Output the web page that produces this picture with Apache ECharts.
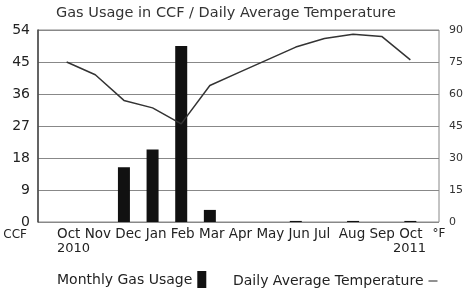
<!DOCTYPE html>
<html>
<head>
<meta charset="utf-8">
<script src="https://cdn.jsdelivr.net/npm/echarts@6/dist/echarts.min.js"></script>
<style>
  html, body { margin: 0; padding: 0; background: #fff; }
  #chart { width: 466px; height: 288px; }
</style>
</head>
<body>
<div id="chart"></div>
<script>
// months Oct 2010 .. Oct 2011
var months = ["Oct", "Nov", "Dec", "Jan", "Feb", "Mar", "Apr", "May", "Jun", "Jul", "Aug", "Sep", "Oct"];
var gasUsage = [0, 0, 15.4, 20.4, 49.5, 3.4, 0, 0, 0.3, 0, 0.3, 0, 0.3];
var avgTemp = [75, 69, 57, 53.5, 46, 64, 70, 76, 82, 86, 88, 87, 76];
var ccfTicks = [0, 9, 18, 27, 36, 45, 54];
var tempTicks = [0, 15, 30, 45, 60, 75, 90];

var font = "DejaVu Sans";
var chart = echarts.init(document.getElementById("chart"));

var legendBase = {
  padding: 0,
  align: "right",
  itemWidth: 9,
  itemHeight: 18,
  textStyle: { fontSize: 14, color: "#222", fontFamily: font }
};

chart.setOption({
  animation: false,
  textStyle: { fontFamily: font },
  title: {
    text: "Gas Usage in CCF / Daily Average Temperature",
    left: 56,
    top: 6,
    padding: 0,
    textStyle: { fontSize: 14.5, fontWeight: "normal", color: "#333", fontFamily: font }
  },
  grid: {
    left: 38,
    right: 24,
    top: 30,
    bottom: 66,
    show: true,
    borderColor: "#888",
    borderWidth: 1
  },
  legend: [
    Object.assign({}, legendBase, {
      left: 57,
      top: 271,
      data: [{ name: "Monthly Gas Usage", icon: "rect" }]
    }),
    Object.assign({}, legendBase, {
      left: 233,
      top: 274,
      data: [{ name: "Daily Average Temperature", icon: "path://M0,0H10V1.2H0Z" }]
    })
  ],
  xAxis: {
    type: "value",
    min: -1,
    max: 13,
    interval: 1,
    axisLine: { show: false },
    axisTick: { show: false },
    axisLabel: { show: false },
    splitLine: { show: false }
  },
  yAxis: [
    {
      type: "value",
      min: ccfTicks[0],
      max: ccfTicks[ccfTicks.length - 1],
      interval: 9,
      name: "CCF",
      nameLocation: "start",
      nameGap: 1,
      nameTextStyle: { align: "right", verticalAlign: "top", padding: [0, 11, 0, 0], fontSize: 12, color: "#222" },
      axisLine: { show: true, onZero: false, lineStyle: { color: "#444", width: 1.5 } },
      axisTick: { show: false },
      axisLabel: { fontSize: 14, color: "#222", margin: 8, padding: [0, 0, 9, 0] },
      splitLine: { show: true, lineStyle: { color: "#888", width: 1.2 } }
    },
    {
      type: "value",
      min: tempTicks[0],
      max: tempTicks[tempTicks.length - 1],
      interval: 15,
      name: "°F",
      nameLocation: "start",
      nameGap: 1,
      nameTextStyle: { align: "center", verticalAlign: "top", fontSize: 12, color: "#222" },
      axisLine: { show: false, onZero: false },
      axisTick: { show: false },
      axisLabel: { fontSize: 11, color: "#333", margin: 10, padding: [0, 0, 6, 0] },
      splitLine: { show: false }
    }
  ],
  graphic: [
    {
      type: "text",
      left: 57,
      top: 227,
      style: { text: months.slice(0, 10).join(" ") + "  " + months.slice(10).join(" "), fontSize: 13.5, fill: "#222", fontFamily: font }
    },
    {
      type: "text",
      left: 57,
      top: 242,
      style: { text: "2010", fontSize: 13, fill: "#222", fontFamily: font }
    },
    {
      type: "text",
      right: 40,
      top: 242,
      style: { text: "2011", fontSize: 13, fill: "#222", fontFamily: font }
    }
  ],
  series: [
    {
      name: "Monthly Gas Usage",
      type: "bar",
      barWidth: 12,
      itemStyle: { color: "#111" },
      data: gasUsage.map(function (v, i) { return [i, v]; })
    },
    {
      name: "Daily Average Temperature",
      type: "line",
      yAxisIndex: 1,
      symbol: "none",
      lineStyle: { color: "#333", width: 1.5 },
      itemStyle: { color: "#333" },
      data: avgTemp.map(function (v, i) { return [i, v]; })
    }
  ]
});
</script>
</body>
</html>
